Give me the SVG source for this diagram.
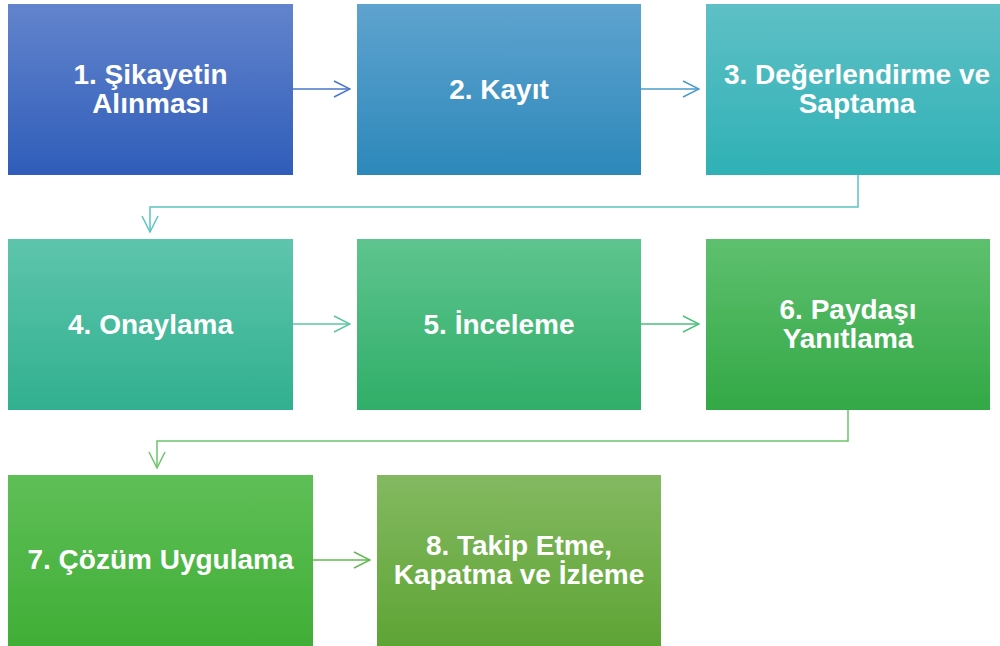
<svg xmlns="http://www.w3.org/2000/svg" width="1000" height="646" viewBox="0 0 1000 646">
<style>
.lbl{font-family:"Liberation Sans",Arial,sans-serif;font-weight:bold;font-size:28px;fill:#ffffff;text-anchor:middle}
.c{fill:none;stroke-width:1.5}
</style>
<defs>
<linearGradient id="g1" x1="0" y1="0" x2="0" y2="1"><stop offset="0" stop-color="#6384CD"/><stop offset="1" stop-color="#2F5DB9"/></linearGradient>
<linearGradient id="g2" x1="0" y1="0" x2="0" y2="1"><stop offset="0" stop-color="#5FA3CF"/><stop offset="1" stop-color="#2C88BA"/></linearGradient>
<linearGradient id="g3" x1="0" y1="0" x2="0" y2="1"><stop offset="0" stop-color="#5EC0C6"/><stop offset="1" stop-color="#2FB1B5"/></linearGradient>
<linearGradient id="g4" x1="0" y1="0" x2="0" y2="1"><stop offset="0" stop-color="#5EC5AC"/><stop offset="1" stop-color="#31B08F"/></linearGradient>
<linearGradient id="g5" x1="0" y1="0" x2="0" y2="1"><stop offset="0" stop-color="#5EC48F"/><stop offset="1" stop-color="#30AE68"/></linearGradient>
<linearGradient id="g6" x1="0" y1="0" x2="0" y2="1"><stop offset="0" stop-color="#5EC06E"/><stop offset="1" stop-color="#33A846"/></linearGradient>
<linearGradient id="g7" x1="0" y1="0" x2="0" y2="1"><stop offset="0" stop-color="#5FBF57"/><stop offset="1" stop-color="#3FAE36"/></linearGradient>
<linearGradient id="g8" x1="0" y1="0" x2="0" y2="1"><stop offset="0" stop-color="#84B961"/><stop offset="1" stop-color="#5EA435"/></linearGradient>
<marker id="m1" viewBox="0 0 18 18" refX="17" refY="9" markerWidth="18" markerHeight="18" markerUnits="userSpaceOnUse" orient="auto"><path d="M1,1 L17,9 L1,17" fill="none" stroke="#4A76C8" stroke-width="1.5"/></marker>
<marker id="m2" viewBox="0 0 18 18" refX="17" refY="9" markerWidth="18" markerHeight="18" markerUnits="userSpaceOnUse" orient="auto"><path d="M1,1 L17,9 L1,17" fill="none" stroke="#4A9BCB" stroke-width="1.5"/></marker>
<marker id="m3" viewBox="0 0 18 18" refX="17" refY="9" markerWidth="18" markerHeight="18" markerUnits="userSpaceOnUse" orient="auto"><path d="M1,1 L17,9 L1,17" fill="none" stroke="#5CC4BE" stroke-width="1.5"/></marker>
<marker id="m4" viewBox="0 0 18 18" refX="17" refY="9" markerWidth="18" markerHeight="18" markerUnits="userSpaceOnUse" orient="auto"><path d="M1,1 L17,9 L1,17" fill="none" stroke="#5CC4A4" stroke-width="1.5"/></marker>
<marker id="m5" viewBox="0 0 18 18" refX="17" refY="9" markerWidth="18" markerHeight="18" markerUnits="userSpaceOnUse" orient="auto"><path d="M1,1 L17,9 L1,17" fill="none" stroke="#4CBF7A" stroke-width="1.5"/></marker>
<marker id="m6" viewBox="0 0 18 18" refX="17" refY="9" markerWidth="18" markerHeight="18" markerUnits="userSpaceOnUse" orient="auto"><path d="M1,1 L17,9 L1,17" fill="none" stroke="#6CC46C" stroke-width="1.5"/></marker>
<marker id="m7" viewBox="0 0 18 18" refX="17" refY="9" markerWidth="18" markerHeight="18" markerUnits="userSpaceOnUse" orient="auto"><path d="M1,1 L17,9 L1,17" fill="none" stroke="#62B84E" stroke-width="1.5"/></marker>
</defs>
<rect width="1000" height="646" fill="#ffffff"/>
<g id="connectors">
<path class="c" d="M293,89 H350" stroke="#4A76C8" marker-end="url(#m1)"/>
<path class="c" d="M641,89 H699" stroke="#4A9BCB" marker-end="url(#m2)"/>
<path class="c" d="M858,175 V207 H150 V232" stroke="#5CC4BE" marker-end="url(#m3)"/>
<path class="c" d="M293,324 H350" stroke="#5CC4A4" marker-end="url(#m4)"/>
<path class="c" d="M641,324 H699" stroke="#4CBF7A" marker-end="url(#m5)"/>
<path class="c" d="M848,410 V441 H157 V468" stroke="#6CC46C" marker-end="url(#m6)"/>
<path class="c" d="M313,560 H370" stroke="#62B84E" marker-end="url(#m7)"/>
</g>
<g id="node1"><rect x="8" y="4" width="285" height="171" fill="url(#g1)"/><text class="lbl" x="150.5" y="84">1. Şikayetin</text><text class="lbl" x="150.5" y="113">Alınması</text></g>
<g id="node2"><rect x="357" y="4" width="284" height="171" fill="url(#g2)"/><text class="lbl" x="499" y="99">2. Kayıt</text></g>
<g id="node3"><rect x="706" y="4" width="294" height="171" fill="url(#g3)"/><text class="lbl" x="857" y="84">3. Değerlendirme ve</text><text class="lbl" x="857" y="113">Saptama</text></g>
<g id="node4"><rect x="8" y="239" width="285" height="171" fill="url(#g4)"/><text class="lbl" x="150.5" y="334">4. Onaylama</text></g>
<g id="node5"><rect x="357" y="239" width="284" height="171" fill="url(#g5)"/><text class="lbl" x="499" y="334">5. İnceleme</text></g>
<g id="node6"><rect x="706" y="239" width="284" height="171" fill="url(#g6)"/><text class="lbl" x="848" y="319">6. Paydaşı</text><text class="lbl" x="848" y="348">Yanıtlama</text></g>
<g id="node7"><rect x="8" y="475" width="305" height="171" fill="url(#g7)"/><text class="lbl" x="160.5" y="569">7. Çözüm Uygulama</text></g>
<g id="node8"><rect x="377" y="475" width="284" height="171" fill="url(#g8)"/><text class="lbl" x="519" y="555">8. Takip Etme,</text><text class="lbl" x="519" y="584">Kapatma ve İzleme</text></g>
</svg>
